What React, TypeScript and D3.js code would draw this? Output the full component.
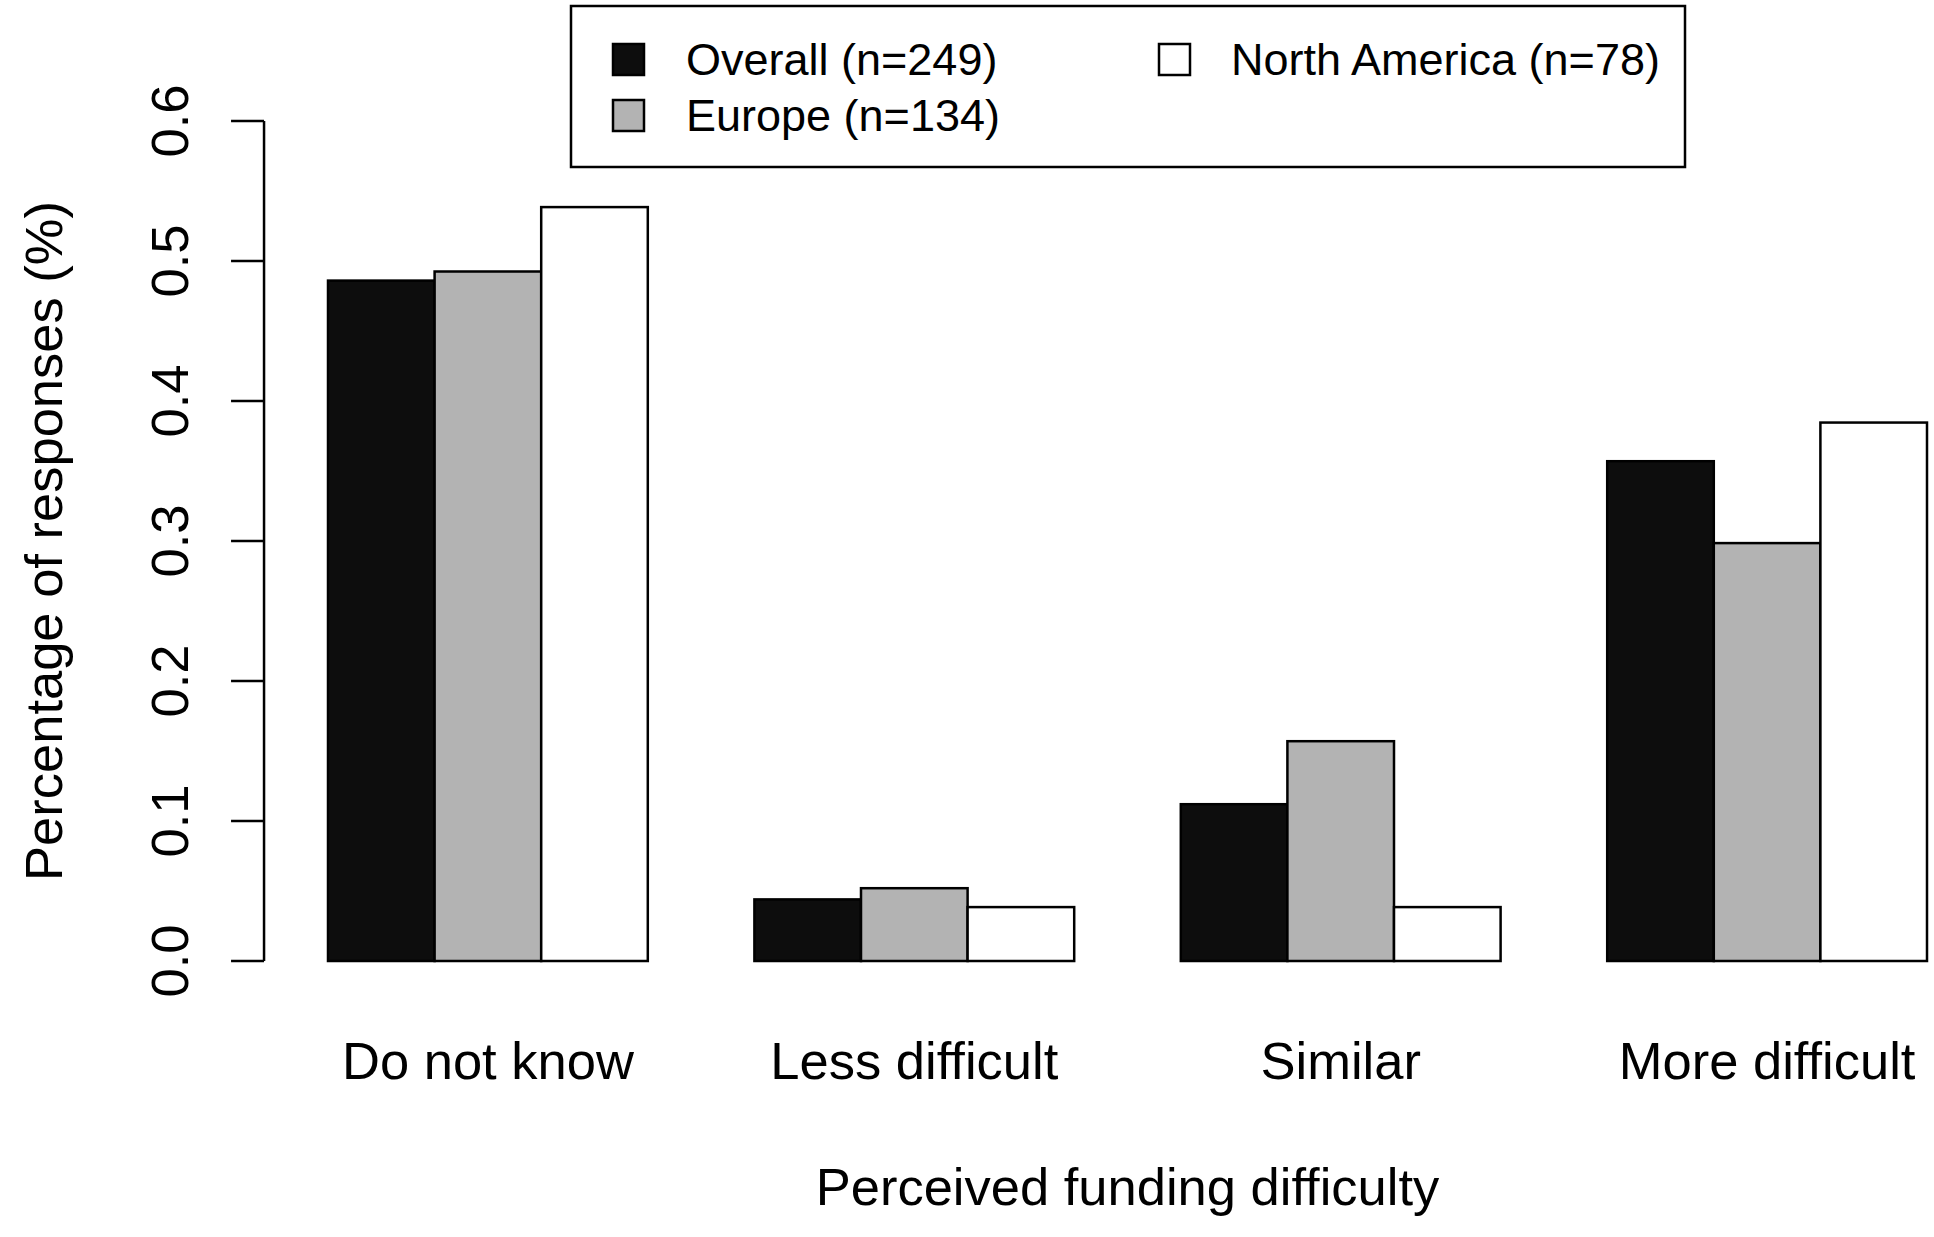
import * as d3 from 'd3';
import React from 'react';

const categories = ['Do not know', 'Less difficult', 'Similar', 'More difficult'];
const seriesNames = ['Overall (n=249)', 'Europe (n=134)', 'North America (n=78)'];
const seriesColors = ['#0d0d0d', '#b3b3b3', '#ffffff'];
const overall = [0.486, 0.044, 0.112, 0.357];
const europe = [0.4925, 0.052, 0.157, 0.2985];
const northAmerica = [0.5385, 0.0385, 0.0385, 0.3846];
const yTicks = [0, 0.1, 0.2, 0.3, 0.4, 0.5, 0.6];

const W = 1934;
const H = 1237;
const FONT = "'Liberation Sans', Arial, Helvetica, sans-serif";

export default function App() {
  const series = [overall, europe, northAmerica];

  // bar units like R barplot(beside=TRUE): each group = 1 gap + 3 bars
  const x = d3.scaleLinear().domain([1, 16]).range([328, 1927]);
  const y = d3.scaleLinear().domain([0, 0.6]).range([961, 121]);
  const fmt = d3.format('.1f');

  const bars: { x0: number; x1: number; v: number; fill: string }[] = [];
  categories.forEach((_, g) => {
    series.forEach((vals, s) => {
      const u = 1 + g * 4 + s;
      bars.push({ x0: x(u), x1: x(u + 1), v: vals[g], fill: seriesColors[s] });
    });
  });

  const axisX = x(0.4);
  const legendRows = [
    { name: seriesNames[0], fill: seriesColors[0], sx: 613, tx: 686, cy: 59 },
    { name: seriesNames[1], fill: seriesColors[1], sx: 613, tx: 686, cy: 115 },
    { name: seriesNames[2], fill: seriesColors[2], sx: 1159, tx: 1231, cy: 59 },
  ];

  return (
    <svg width={W} height={H} style={{ position: 'absolute', left: 0, top: 0, background: '#fff' }}
      fontFamily={FONT}>
      <rect x={0} y={0} width={W} height={H} fill="#fff" />

      {/* bars */}
      {bars.map((b, i) => (
        <rect key={i} x={b.x0} y={y(b.v)} width={b.x1 - b.x0} height={y(0) - y(b.v)}
          fill={b.fill} stroke="#000" strokeWidth={2.5} />
      ))}

      {/* y axis */}
      <line x1={axisX} x2={axisX} y1={y(0)} y2={y(0.6)} stroke="#000" strokeWidth={2.5} />
      {yTicks.map((t) => (
        <g key={t}>
          <line x1={axisX - 33} x2={axisX} y1={y(t)} y2={y(t)} stroke="#000" strokeWidth={2.5} />
          <text transform={`translate(188,${y(t)}) rotate(-90)`} textAnchor="middle"
            fontSize={52.5} fill="#000">{fmt(t)}</text>
        </g>
      ))}

      {/* category labels */}
      {categories.map((c, g) => (
        <text key={c} x={x(1 + g * 4 + 1.5)} y={1079} textAnchor="middle" fontSize={52.5} fill="#000">{c}</text>
      ))}

      {/* axis titles */}
      <text x={x(8.5)} y={1205} textAnchor="middle" fontSize={52.5} fill="#000">Perceived funding difficulty</text>
      <text transform={`translate(62,${y(0.3)}) rotate(-90)`} textAnchor="middle" fontSize={52.5} fill="#000">
        Percentage of responses (%)
      </text>

      {/* legend */}
      <rect x={571} y={6} width={1114} height={161} fill="#fff" stroke="#000" strokeWidth={2.5} />
      {legendRows.map((r) => (
        <g key={r.name}>
          <rect x={r.sx} y={r.cy - 15} width={31} height={31} fill={r.fill} stroke="#000" strokeWidth={2.5} />
          <text x={r.tx} y={r.cy + 16} fontSize={45} fill="#000">{r.name}</text>
        </g>
      ))}
    </svg>
  );
}
